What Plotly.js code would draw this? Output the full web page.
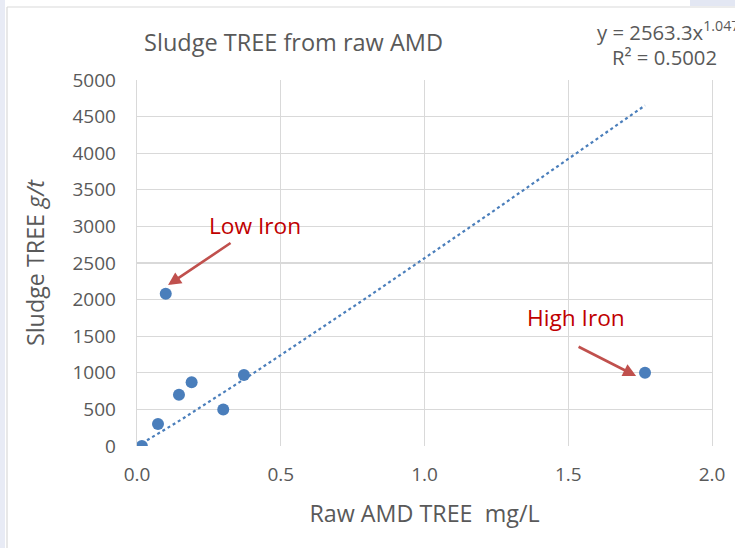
<!DOCTYPE html>
<html>
<head>
<meta charset="utf-8">
<script src="https://cdn.plot.ly/plotly-3.0.1.min.js"></script>
<style>html,body{margin:0;padding:0;background:#fff;}#chart{width:735px;height:548px;}</style>
</head>
<body>
<div id="chart"></div>
<script>
// Data
const rawAMD = [0.017, 0.073, 0.100, 0.146, 0.190, 0.300, 0.372, 1.767];
const sludge = [0, 300, 2080, 700, 870, 500, 970, 1000];
// Power trendline shown on chart: y = a * x^b
const trendA = 2563.3;
const trendB = 1.047;
const trendRange = [0.017, 1.767];
const xTicks = [0, 0.5, 1.0, 1.5, 2.0];
const yTicks = [0, 500, 1000, 1500, 2000, 2500, 3000, 3500, 4000, 4500, 5000];

const trendX = [];
const steps = 60;
for (let i = 0; i <= steps; i++) {
  trendX.push(trendRange[0] + (trendRange[1] - trendRange[0]) * i / steps);
}
const trendY = trendX.map(x => trendA * Math.pow(x, trendB));

const blue = '#4A7EBB';
const grey = '#595959';
const gridc = '#D9D9D9';
const FONT = '"Open Sans", Lato, sans-serif';

const traces = [
  {x: trendX, y: trendY, mode: 'lines', type: 'scatter',
   line: {color: blue, width: 2.2, dash: 'dot'}, hoverinfo: 'skip'},
  {x: rawAMD, y: sludge, mode: 'markers', type: 'scatter',
   marker: {color: blue, size: 12}}
];

const PL = 137, PR = 712, PT = 80, PB = 446;
const px = v => (v - PL) / (PR - PL);
const py = v => (PB - v) / (PB - PT);

const layout = {
  width: 735, height: 548,
  margin: {l: PL, r: 735 - PR, t: PT, b: 548 - PB},
  paper_bgcolor: '#fff', plot_bgcolor: 'rgba(0,0,0,0)',
  showlegend: false,
  font: {family: FONT, color: grey, size: 18},
  title: {text: 'Sludge TREE from raw AMD', font: {family: FONT, size: 23.5, color: grey},
          x: px(293.5), xref: 'paper', xanchor: 'center', y: 1 - 43 / 548, yanchor: 'middle'},
  xaxis: {range: [0, 2], tickvals: xTicks, tickformat: '.1f',
          showgrid: true, gridcolor: gridc, gridwidth: 1.3, zeroline: false, showline: false,
          ticks: 'outside', ticklen: 11, tickcolor: 'rgba(0,0,0,0)',
          tickfont: {family: FONT, size: 19, color: grey},
          title: {text: 'Raw AMD TREE  mg/L', font: {family: FONT, size: 23.3, color: grey}, standoff: 19}},
  yaxis: {range: [0, 5000], tickvals: yTicks, showgrid: true, gridcolor: gridc, gridwidth: 1.3,
          zeroline: false, showline: true, mirror: true, linecolor: gridc, linewidth: 1.3,
          ticks: 'outside', ticklen: 16, tickcolor: 'rgba(0,0,0,0)',
          tickfont: {family: FONT, size: 19, color: grey},
          title: {text: 'Sludge TREE <i>g/t</i>', font: {family: FONT, size: 23.3, color: grey}, standoff: 21}},
  shapes: [
    {type: 'line', xref: 'paper', yref: 'paper', x0: px(7), x1: px(735), y0: py(7), y1: py(7),
     line: {color: gridc, width: 1.2}, layer: 'below'},
    {type: 'line', xref: 'paper', yref: 'paper', x0: px(7), x1: px(7), y0: py(548), y1: py(7),
     line: {color: gridc, width: 1.2}, layer: 'below'},
    {type: 'rect', xref: 'paper', yref: 'paper', x0: px(0), x1: px(5), y0: py(548), y1: py(0),
     line: {width: 0}, fillcolor: '#E8EBF5', layer: 'below'},
    {type: 'rect', xref: 'paper', yref: 'paper', x0: px(690), x1: px(735), y0: py(6), y1: py(0),
     line: {width: 0}, fillcolor: '#E3E7F3', layer: 'below'}
  ],
  annotations: [
    {text: 'Low Iron', xref: 'paper', yref: 'paper', x: px(255), y: py(225),
     xanchor: 'center', yanchor: 'middle', showarrow: false,
     font: {family: FONT, size: 22.7, color: '#C00000'}},
    {text: 'High Iron', xref: 'paper', yref: 'paper', x: px(576), y: py(317),
     xanchor: 'center', yanchor: 'middle', showarrow: false,
     font: {family: FONT, size: 22.7, color: '#C00000'}},
    {text: '', x: 0.108, y: 2199, xref: 'x', yref: 'y', showarrow: true,
     ax: 64, ay: -43, arrowhead: 2, arrowsize: 1, arrowwidth: 2.6, arrowcolor: '#C0504D'},
    {text: '', x: 1.736, y: 956, xref: 'x', yref: 'y', showarrow: true,
     ax: -59, ay: -30, arrowhead: 2, arrowsize: 1, arrowwidth: 2.6, arrowcolor: '#C0504D'},
    {text: 'y = 2563.3x<sup>1.0479</sup>', xref: 'paper', yref: 'paper', x: px(595), y: py(31),
     xanchor: 'left', yanchor: 'middle', showarrow: false,
     font: {family: FONT, size: 20.3, color: grey}},
    {text: 'R² = 0.5002', xref: 'paper', yref: 'paper', x: px(610), y: py(57),
     xanchor: 'left', yanchor: 'middle', showarrow: false,
     font: {family: FONT, size: 20.3, color: grey}}
  ]
};

Plotly.newPlot('chart', traces, layout, {displayModeBar: false, staticPlot: true});
</script>
</body>
</html>
